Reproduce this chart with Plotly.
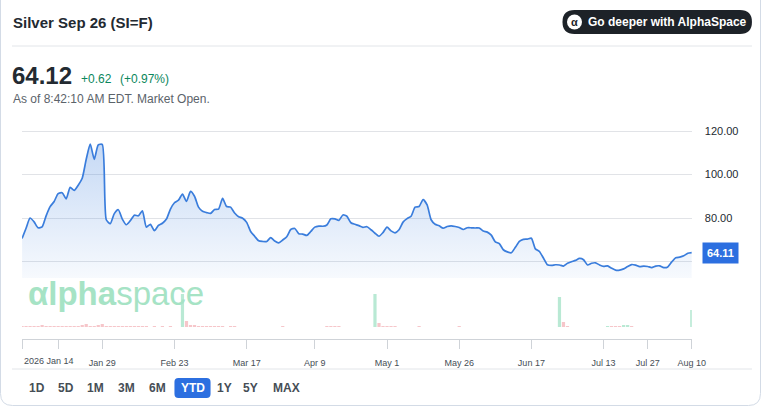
import plotly.graph_objects as go

W, H = 764, 409
PAGE_W = 780  # the page is captured a little wider than the target and squeezed back to 764

# closing prices, one per session shown on the chart (left to right)
price = [
    70.6, 75.3, 80.0, 78.2, 75.5, 75.9, 81.0, 85.2, 87.6, 91.2, 91.6, 88.8,
    94.1, 92.7, 95.1, 98.3, 107.0, 114.0, 107.0, 113.6, 113.8, 79.2, 77.4, 82.0,
    83.8, 79.5, 76.9, 78.8, 81.3, 81.0, 83.3, 75.8, 77.1, 74.2, 76.6, 77.6,
    79.5, 84.1, 87.0, 88.2, 91.0, 87.6, 92.2, 90.0, 85.0, 83.1, 82.5, 82.1,
    83.9, 84.1, 89.0, 85.3, 85.0, 82.3, 80.6, 79.9, 78.0, 73.8, 71.6, 69.5,
    69.2, 69.2, 71.0, 69.4, 68.6, 69.9, 71.4, 74.7, 75.2, 72.8, 72.6, 72.0,
    73.8, 75.8, 76.3, 76.2, 76.8, 79.6, 79.6, 78.9, 81.4, 80.8, 77.8, 77.1,
    76.5, 75.7, 76.0, 74.6, 73.0, 71.6, 73.3, 75.8, 74.1, 73.2, 74.6, 78.1,
    79.7, 80.8, 85.0, 85.3, 88.5, 86.0, 79.2, 77.1, 76.4, 75.3, 76.1, 76.4,
    76.1, 75.6, 74.7, 75.5, 75.5, 75.4, 75.4, 74.0, 73.5, 72.1, 69.0, 68.2,
    65.4, 64.4, 64.0, 66.5, 69.2, 70.2, 70.3, 70.7, 65.8, 64.6, 61.6, 58.5,
    58.2, 58.5, 58.4, 57.9, 59.2, 59.9, 60.5, 61.4, 60.8, 58.4, 59.2, 59.4,
    58.4, 57.8, 58.0, 56.9, 56.0, 56.0, 56.6, 57.7, 58.6, 58.3, 57.6, 57.9,
    57.7, 57.2, 57.9, 58.0, 57.2, 57.5, 59.8, 61.7, 62.0, 62.6, 63.8, 64.11,
]

# volume (thousand contracts)
volume = [
    1, 1, 1, 1, 1, 2, 1, 1, 1, 1, 1, 1,
    1, 1, 1, 2, 3, 1, 1, 2, 3, 1, 1, 1,
    1, 1, 1, 1, 1, 1, 1, 1, 0, 1, 0, 1,
    0, 1, 0, 0, 33, 6, 2, 2, 1, 1, 1, 1,
    1, 1, 1, 0, 1, 1, 0, 0, 0, 0, 0, 0,
    0, 0, 0, 0, 0, 1, 0, 0, 0, 0, 0, 0,
    0, 0, 0, 0, 1, 1, 1, 1, 0, 0, 0, 0,
    0, 0, 0, 0, 33, 4, 1, 1, 1, 1, 0, 0,
    0, 0, 0, 1, 0, 0, 0, 0, 0, 0, 0, 0,
    0, 1, 0, 0, 0, 0, 0, 0, 0, 0, 0, 0,
    0, 0, 0, 0, 0, 0, 0, 0, 0, 0, 0, 0,
    0, 0, 30, 5, 1, 0, 0, 0, 0, 0, 0, 0,
    0, 0, 1, 1, 1, 1, 2, 2, 1, 0, 0, 0,
    0, 0, 0, 0, 0, 0, 0, 0, 0, 0, 0, 17,
]
up_days = [40, 88, 134, 146, 150, 151, 167]

tick_idx = [0, 9, 20, 38, 56, 73, 91, 109, 127, 145, 156, 167]
tick_text = ["", "", "Jan 29", "Feb 23", "Mar 17", "Apr 9", "May 1",
             "May 26", "Jun 17", "Jul 13", "Jul 27", "Aug 10"]
first_label = "2026 Jan 14"
price_ticks = [60, 80, 100, 120]
price_tick_text = ["", "80.00", "100.00", "120.00"]
ranges = ["1D", "5D", "1M", "3M", "6M", "YTD", "1Y", "5Y", "MAX"]
active_range = "YTD"

last_price = "64.12"
change = "+0.62"
change_pct = "(+0.97%)"

FONT = "Liberation Sans, Arial, Helvetica, sans-serif"
BLUE = "#3a7ddc"
DARK = "#232a31"


def px(x):
    return x / W


def py(y):
    return 1 - y / H


def rrect(x0, y0, x1, y1, r):
    # rounded rectangle in pixel coords -> paper path
    return (f"M {px(x0 + r)},{py(y0)} L {px(x1 - r)},{py(y0)} "
            f"Q {px(x1)},{py(y0)} {px(x1)},{py(y0 + r)} L {px(x1)},{py(y1 - r)} "
            f"Q {px(x1)},{py(y1)} {px(x1 - r)},{py(y1)} L {px(x0 + r)},{py(y1)} "
            f"Q {px(x0)},{py(y1)} {px(x0)},{py(y1 - r)} L {px(x0)},{py(y0 + r)} "
            f"Q {px(x0)},{py(y0)} {px(x0 + r)},{py(y0)} Z")


idx = list(range(len(price)))
vol_colors = ["#b9e9d4" if i in up_days else "#f6c6ca" for i in idx]

fig = go.Figure()
fig.add_trace(go.Scatter(
    x=idx, y=price, mode="lines", xaxis="x", yaxis="y",
    line=dict(color=BLUE, width=1.7, shape="spline", smoothing=0.6),
    fill="tozeroy",
    fillgradient=dict(type="vertical", start=52, stop=116,
                      colorscale=[[0, "rgba(58,125,220,0.04)"], [1, "rgba(58,125,220,0.30)"]]),
    hoverinfo="skip",
))
fig.add_trace(go.Bar(
    x=idx, y=volume, xaxis="x2", yaxis="y2", width=0.8,
    marker=dict(color=vol_colors, line=dict(width=0)), hoverinfo="skip",
))

shapes = [
    dict(type="path", path=rrect(0.5, -12, 758.5, 405.5, 12), xref="paper", yref="paper",
         line=dict(color="#d3dbe6", width=1)),
    dict(type="line", xref="paper", yref="paper", x0=px(12), x1=px(750), y0=py(46), y1=py(46),
         line=dict(color="#e2e5e9", width=1)),
    dict(type="line", xref="paper", yref="paper", x0=px(12), x1=px(750), y0=py(369), y1=py(369),
         line=dict(color="#e2e5e9", width=1)),
    dict(type="path", path=rrect(561, 10, 750, 34, 12), xref="paper", yref="paper",
         fillcolor="#1d2228", line=dict(width=0)),
    dict(type="circle", xref="paper", yref="paper", x0=px(565.5), x1=px(580.5), y0=py(14.5), y1=py(29.5),
         fillcolor="white", line=dict(width=0)),
    dict(type="path", path=rrect(174, 378, 210, 398, 4), xref="paper", yref="paper",
         fillcolor="#2c6fe0", line=dict(width=0)),
]

ann = []


def text(x, y, s, size, color, bold=False, anchor="left", yref="paper", xref="paper"):
    ann.append(dict(x=x, y=y, xref=xref, yref=yref, text=f"<b>{s}</b>" if bold else s,
                    showarrow=False, xanchor=anchor, yanchor="middle",
                    font=dict(family=FONT, size=size, color=color)))


text(px(11), py(22), "Silver Sep 26 (SI=F)", 15, DARK, bold=True)
text(px(10), py(75), last_price, 24, DARK, bold=True)
text(px(79), py(79), change, 12, "#0b875c")
text(px(118), py(79), change_pct, 12, "#0b875c")
text(px(11), py(99), "As of 8:42:10 AM EDT. Market Open.", 12, "#5b636a")
text(px(584), py(22), "Go deeper with AlphaSpace", 12, "white", bold=True)
text(px(573), py(22), "α", 11, "#1d2228", bold=True, anchor="center")
text(px(26), py(293), "<b>αlpha</b>space", 33, "#a6e3c5")
text(0, py(361), first_label, 9, "#464e56", xref="x2")

ann.append(dict(x=px(700), y=price[-1], xref="paper", yref="y", text=f"<b>{price[-1]:.2f}</b>",
                showarrow=False, xanchor="left", yanchor="middle", bgcolor="#2c6fe0", borderpad=4,
                font=dict(family=FONT, size=11, color="white")))

range_x = [37, 66, 95.5, 126, 157, 192, 224, 250, 286]
for label, cx in zip(ranges, range_x):
    col = "white" if label == active_range else "#464e56"
    text(px(cx), py(388), label, 12, col, bold=True, anchor="center")

fig.update_layout(
    width=PAGE_W, height=H, autosize=False, margin=dict(l=0, r=0, t=0, b=0),
    paper_bgcolor="white", plot_bgcolor="white", showlegend=False,
    font=dict(family=FONT),
    xaxis=dict(domain=[px(22), px(690)], range=[0, len(price) - 1], anchor="y",
               showticklabels=False, showgrid=False, zeroline=False, showline=False),
    yaxis=dict(domain=[py(278), py(118)], range=[52.41, 125.98], side="right", anchor="x",
               tickvals=price_ticks, ticktext=price_tick_text, gridcolor="#e1e3e7", gridwidth=1,
               zeroline=False, showline=False, ticks="", ticklabelstandoff=12,
               tickfont=dict(size=11, color=DARK)),
    xaxis2=dict(domain=[px(22), px(690)], range=[0, len(price) - 1], anchor="y2",
                tickvals=tick_idx, ticktext=tick_text, ticks="outside", ticklen=9,
                tickcolor="#cfd3d8", showline=True, linecolor="#cfd3d8", showgrid=False,
                zeroline=False, tickfont=dict(size=9, color="#464e56"), ticklabelstandoff=6),
    yaxis2=dict(domain=[py(339), py(288)], range=[-12, 39], visible=False, anchor="x2"),
    shapes=shapes, annotations=ann,
)

# page body has a default 8px margin; drop it so the figure sits at 0,0
fig.write_html("out.html", config={"displayModeBar": False, "responsive": False},
               post_script="document.body.style.margin='0';document.body.style.overflow='hidden';")
